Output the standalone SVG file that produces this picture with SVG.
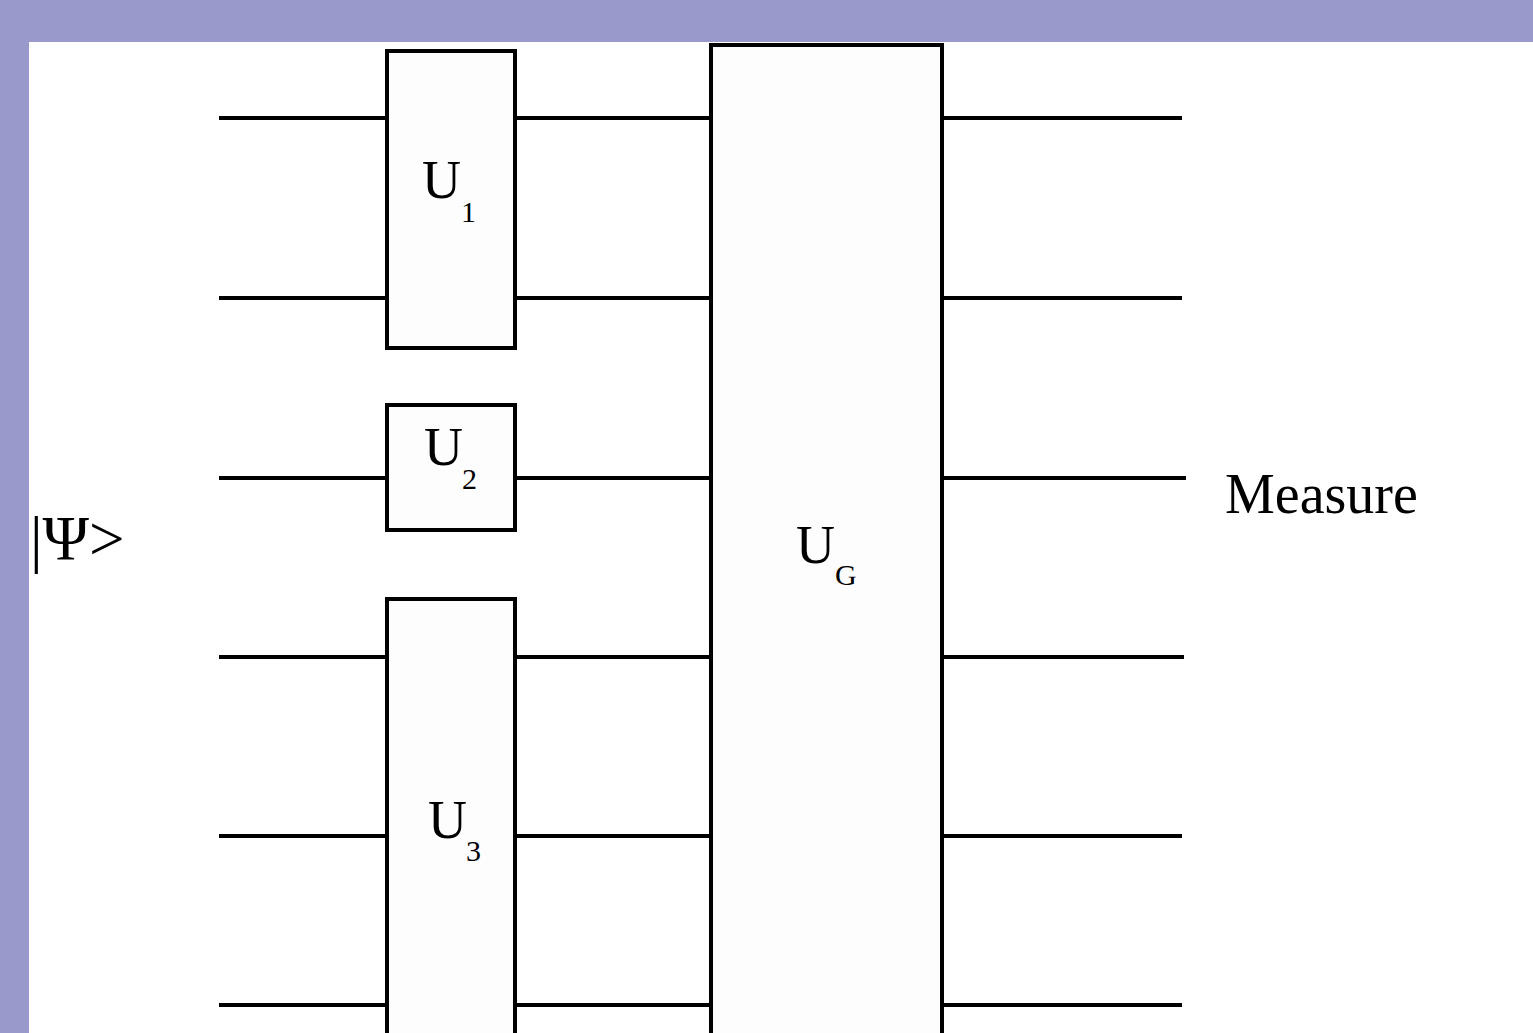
<svg xmlns="http://www.w3.org/2000/svg" width="1533" height="1033" viewBox="0 0 1533 1033">
<style>
.w{stroke:#000;stroke-width:4;fill:none}
.g{fill:#fdfdfd;stroke:#000;stroke-width:4}
.lab{font-family:"Liberation Serif","Times New Roman",serif;font-size:54px;fill:#000}
.sub{font-family:"Liberation Serif","Times New Roman",serif;font-size:30px;fill:#000}
.t{font-family:"Liberation Serif","Times New Roman",serif;font-size:55px;fill:#000}
</style>
<rect x="0" y="0" width="1533" height="1033" fill="#9999cc"/>
<rect x="29" y="42" width="1504" height="991" fill="#ffffff"/>
<g id="connectors">
<line class="w" x1="219" y1="118" x2="387" y2="118"/>
<line class="w" x1="219" y1="298" x2="387" y2="298"/>
<line class="w" x1="219" y1="478" x2="387" y2="478"/>
<line class="w" x1="219" y1="657" x2="387" y2="657"/>
<line class="w" x1="219" y1="836" x2="387" y2="836"/>
<line class="w" x1="219" y1="1005" x2="387" y2="1005"/>
<line class="w" x1="515" y1="118" x2="711" y2="118"/>
<line class="w" x1="515" y1="298" x2="711" y2="298"/>
<line class="w" x1="515" y1="478" x2="711" y2="478"/>
<line class="w" x1="515" y1="657" x2="711" y2="657"/>
<line class="w" x1="515" y1="836" x2="711" y2="836"/>
<line class="w" x1="515" y1="1005" x2="711" y2="1005"/>
<line class="w" x1="942" y1="118" x2="1182" y2="118"/>
<line class="w" x1="942" y1="298" x2="1182" y2="298"/>
<line class="w" x1="942" y1="478" x2="1186" y2="478"/>
<line class="w" x1="942" y1="657" x2="1184" y2="657"/>
<line class="w" x1="942" y1="836" x2="1182" y2="836"/>
<line class="w" x1="942" y1="1005" x2="1182" y2="1005"/>
</g>
<g id="U1">
<rect class="g" x="387" y="51" width="128" height="297"/>
<text class="lab" x="422" y="198">U</text><text class="sub" x="461" y="222">1</text>
</g>
<g id="U2">
<rect class="g" x="387" y="405" width="128" height="125"/>
<text class="lab" x="424" y="465">U</text><text class="sub" x="462" y="489">2</text>
</g>
<g id="U3">
<rect class="g" x="387" y="599" width="128" height="460"/>
<text class="lab" x="428" y="838">U</text><text class="sub" x="466" y="861">3</text>
</g>
<g id="UG">
<rect class="g" x="711" y="45" width="231" height="1020"/>
<text class="lab" x="796" y="563">U</text><text class="sub" x="835" y="585">G</text>
</g>
<g id="psi">
<text class="t" x="30" y="560" style="font-size:63px">|Ψ&gt;</text>
</g>
<g id="measure">
<text class="t" x="1225" y="513" style="font-size:56px">Measure</text>
</g>
</svg>
